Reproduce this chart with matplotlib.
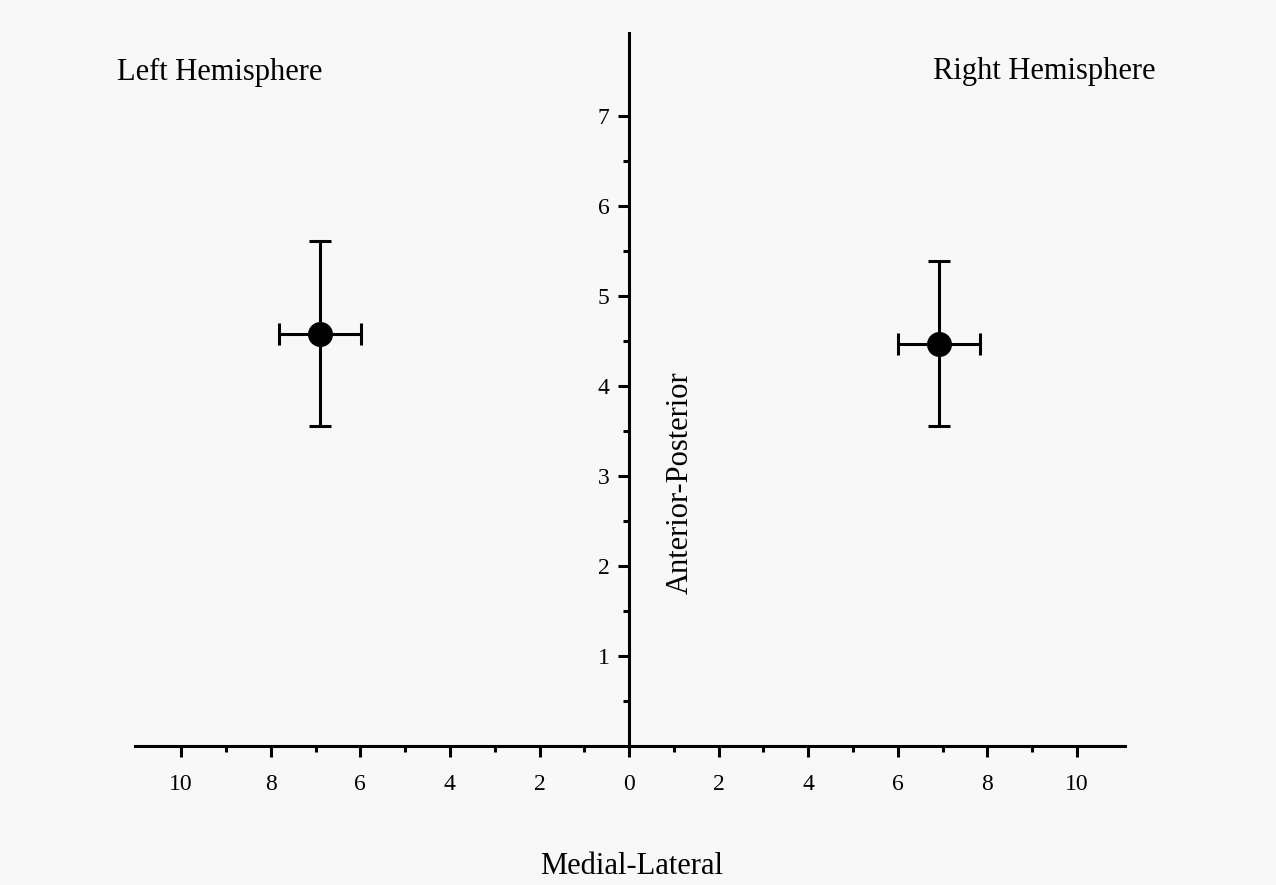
import matplotlib.pyplot as plt
from matplotlib.ticker import FixedLocator, FuncFormatter

plt.rcParams["font.family"] = ["Liberation Serif", "DejaVu Serif"]

# hemisphere means (negative x = left hemisphere)
labels = ["Left Hemisphere", "Right Hemisphere"]
ml = [-6.9, 6.92]
ap = [4.58, 4.47]
ml_err = [0.92, 0.92]
ap_err = [1.03, 0.92]

x_major = list(range(-10, 11, 2))
x_minor = list(range(-9, 10, 2))
y_major = list(range(1, 8))
y_minor = [0.5, 1.5, 2.5, 3.5, 4.5, 5.5, 6.5]

fig = plt.figure(figsize=(12.76, 8.85), dpi=100)
fig.patch.set_facecolor("#f8f8f8")

ax = fig.add_axes([135 / 1276, 1 - 746 / 885, 990 / 1276, 713 / 885])
ax.set_facecolor("#f8f8f8")

ax.errorbar(ml, ap, xerr=ml_err, yerr=ap_err, fmt="o", color="black",
            markersize=17, elinewidth=2.2, capsize=8, capthick=2.2)

ax.set_xlim(-11.03, 11.07)
ax.set_ylim(0, 7.92)

# spines through origin
ax.spines["left"].set_position(("data", 0))
ax.spines["bottom"].set_position(("data", 0))
ax.spines["top"].set_visible(False)
ax.spines["right"].set_visible(False)
for s in ["left", "bottom"]:
    ax.spines[s].set_linewidth(2.2)

ax.xaxis.set_major_locator(FixedLocator(x_major))
ax.xaxis.set_minor_locator(FixedLocator(x_minor))
ax.yaxis.set_major_locator(FixedLocator(y_major))
ax.yaxis.set_minor_locator(FixedLocator(y_minor))

ax.xaxis.set_major_formatter(FuncFormatter(lambda v, p: f"{abs(int(round(v)))}"))

ax.tick_params(axis="x", which="major", direction="out", length=8, width=2.2,
               labelsize=17, pad=12)
ax.tick_params(axis="x", which="minor", direction="out", length=4, width=2.2)
ax.tick_params(axis="y", which="major", direction="out", length=8, width=2.2,
               labelsize=17, pad=6)
ax.tick_params(axis="y", which="minor", direction="out", length=4, width=2.2)

# labels
fig.text(632 / 1276, 1 - 866 / 885, "Medial-Lateral", ha="center", va="center",
         fontsize=22)
fig.text(680 / 1276, 1 - 483 / 885, "Anterior-Posterior", ha="center",
         va="center", rotation=90, fontsize=22)
fig.text(220 / 1276, 1 - 72 / 885, labels[0], ha="center", va="center",
         fontsize=22)
fig.text(1044 / 1276, 1 - 72 / 885, labels[1], ha="center", va="center",
         fontsize=22)

fig.savefig("out.png", dpi=100, facecolor=fig.get_facecolor())
